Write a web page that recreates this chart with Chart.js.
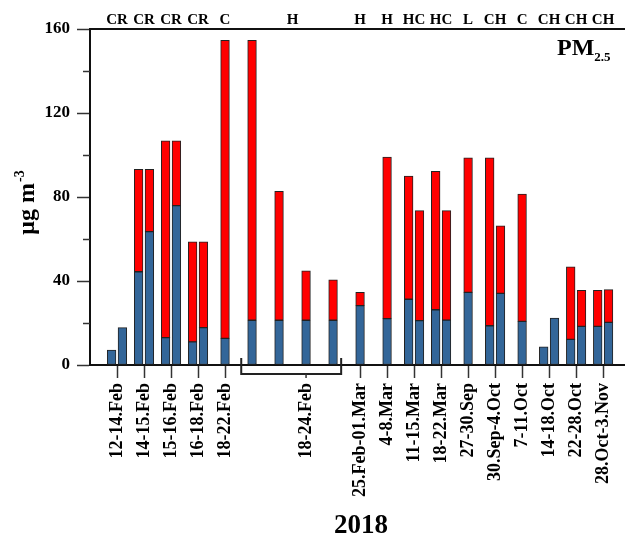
<!DOCTYPE html>
<html><head><meta charset="utf-8">
<script src="https://cdn.jsdelivr.net/npm/chart.js@4.4.0/dist/chart.umd.min.js"></script>
<style>html,body{margin:0;padding:0;background:#fff;overflow:hidden}</style>
</head><body>
<canvas id="c" width="625" height="537"></canvas>
<script>
// ---- data ----
const periodLabels = ['12-14.Feb','14-15.Feb','15-16.Feb','16-18.Feb','18-22.Feb','','','18-24.Feb','','25.Feb-01.Mar','4-8.Mar','11-15.Mar','18-22.Mar','27-30.Sep','30.Sep-4.Oct','7-11.Oct','14-18.Oct','22-28.Oct','28.Oct-3.Nov'];
const typeLabels = ['CR','CR','CR','CR','C','H','H','H','HC','HC','L','CH','C','CH','CH','CH'];
const typeGroups = [[0],[1],[2],[3],[4],[5,6,7,8],[9],[10],[11],[12],[13],[14],[15],[16],[17],[18]];
const barSlot = [0,0,1,1,2,2,3,3,4,5,6,7,8,9,10,11,11,12,12,13,14,14,15,16,16,17,17,18,18];
const blueValues = [7.1,17.8,44.4,63.5,13.0,75.9,11.0,17.8,12.7,21.3,21.3,21.3,21.3,28.3,22.1,31.3,21.1,26.3,21.4,34.6,18.7,34.1,20.8,8.6,22.4,12.2,18.4,18.4,20.3];
const redValues = [null,null,48.8,29.7,93.7,30.8,47.6,40.8,141.9,133.3,61.4,23.5,19.2,6.3,76.9,58.7,52.4,65.9,52.1,64.1,80.0,32.2,60.6,null,null,34.5,17.2,17.2,15.6];
const yTicks = [0,40,80,120,160];
const yMinorTicks = [20,60,100,140];

// ---- layout helpers ----
const xPos = barSlot.map((s, i) => {
  const n = barSlot.filter(v => v === s).length;
  if (n === 1) return s;
  const k = barSlot.slice(0, i).filter(v => v === s).length;
  return s + (k === 0 ? -0.2 : 0.2);
});
const labeledSlots = periodLabels.map((l, i) => l ? i : null).filter(v => v !== null);
const typeCenters = typeGroups.map(g => g.reduce((a, b) => a + b, 0) / g.length);
const XMIN = -1, XMAX = 18.81;
const SERIF = "'Liberation Serif', 'Times New Roman', serif";

const decor = {
  id: 'decor',
  afterDraw(chart) {
    const ctx = chart.ctx;
    const x = chart.scales.x, y = chart.scales.y;
    const L = chart.chartArea.left;
    ctx.save();
    // minor y ticks
    ctx.strokeStyle = '#333'; ctx.lineWidth = 1.5;
    yMinorTicks.forEach(v => {
      const py = Math.round(y.getPixelForValue(v)) + 0.5;
      ctx.beginPath(); ctx.moveTo(L - 7, py); ctx.lineTo(L, py); ctx.stroke();
    });
    // bracket under the 18-24 Feb group
    const bx1 = x.getPixelForValue(4.6), bx2 = x.getPixelForValue(8.3);
    const by = y.getPixelForValue(0);
    ctx.strokeStyle = '#222'; ctx.lineWidth = 2;
    ctx.beginPath();
    ctx.moveTo(bx1, by - 7); ctx.lineTo(bx1, by + 9); ctx.lineTo(bx2, by + 9); ctx.lineTo(bx2, by - 7);
    ctx.stroke();
    const tx = x.getPixelForValue(7);
    ctx.lineWidth = 1.5; ctx.strokeStyle = '#333';
    ctx.beginPath(); ctx.moveTo(tx, by + 9); ctx.lineTo(tx, by + 13); ctx.stroke();
    // y title
    ctx.fillStyle = '#000';
    ctx.translate(27, 203);
    ctx.rotate(-Math.PI / 2);
    ctx.font = 'bold 24px ' + SERIF;
    const main = 'μg m';
    const wMain = ctx.measureText(main).width;
    ctx.font = 'bold 14px ' + SERIF;
    const sup = '-3';
    const wSup = ctx.measureText(sup).width;
    const start = -(wMain + wSup) / 2;
    ctx.textBaseline = 'alphabetic';
    ctx.font = 'bold 24px ' + SERIF;
    ctx.fillText(main, start, 7);
    ctx.font = 'bold 14px ' + SERIF;
    ctx.fillText(sup, start + wMain + 1, -3);
    ctx.setTransform(1, 0, 0, 1, 0, 0);
    // PM2.5
    ctx.font = 'bold 24px ' + SERIF;
    ctx.textAlign = 'left';
    ctx.fillText('PM', 557, 55);
    const wPM = ctx.measureText('PM').width;
    ctx.font = 'bold 13px ' + SERIF;
    ctx.fillText('2.5', 557 + wPM, 61);
    // x title
    ctx.font = 'bold 27px ' + SERIF;
    ctx.textAlign = 'center';
    ctx.fillText('2018', 361, 533);
    ctx.restore();
  }
};

new Chart(document.getElementById('c'), {
  type: 'bar',
  data: {
    datasets: [
      {
        label: 'blue', stack: 'a',
        data: xPos.map((px, i) => ({ x: px, y: blueValues[i] })),
        backgroundColor: '#336699', borderColor: '#222', borderWidth: 1, borderSkipped: false,
        barThickness: 8.7, xAxisID: 'x', yAxisID: 'y'
      },
      {
        label: 'red', stack: 'a',
        data: xPos.map((px, i) => ({ x: px, y: redValues[i] })),
        backgroundColor: '#ff0000', borderColor: '#222', borderWidth: 1, borderSkipped: false,
        barThickness: 8.7, xAxisID: 'x', yAxisID: 'y'
      }
    ]
  },
  options: {
    responsive: false, animation: false, devicePixelRatio: 1,
    layout: { padding: 0 },
    plugins: { legend: { display: false }, tooltip: { enabled: false } },
    scales: {
      x: {
        type: 'linear', position: 'bottom', min: XMIN, max: XMAX, offset: false,
        afterBuildTicks: s => { s.ticks = labeledSlots.map(v => ({ value: v })); },
        afterFit: s => { s.height = 172; s.paddingLeft = 0; s.paddingRight = 0; },
        ticks: {
          autoSkip: false, minRotation: 90, maxRotation: 90, padding: 5,
          color: '#000', font: { family: SERIF, size: 18, weight: 'bold' },
          callback: v => periodLabels[v]
        },
        grid: {
          offset: false, drawOnChartArea: false, tickLength: 13, tickWidth: 1.5,
          tickColor: c => (c.tick && c.tick.value === 7) ? 'rgba(0,0,0,0)' : '#333'
        },
        border: { display: true, color: '#111', width: 2 }
      },
      xTop: {
        type: 'linear', position: 'top', min: XMIN, max: XMAX, offset: false,
        afterBuildTicks: s => { s.ticks = typeCenters.map(v => ({ value: v })); },
        afterFit: s => { s.height = 29; s.paddingLeft = 0; s.paddingRight = 0; },
        ticks: {
          autoSkip: false, maxRotation: 0, minRotation: 0, padding: 0,
          color: '#000', font: { family: SERIF, size: 15, weight: 'bold' },
          callback: (v, i) => typeLabels[i]
        },
        grid: { offset: false, drawOnChartArea: false, drawTicks: false },
        border: { display: true, color: '#111', width: 2 }
      },
      y: {
        type: 'linear', position: 'left', min: 0, max: 160, stacked: true,
        afterBuildTicks: s => { s.ticks = yTicks.map(v => ({ value: v })); },
        afterFit: s => { s.width = 90; },
        ticks: {
          padding: 7, color: '#000', font: { family: SERIF, size: 17, weight: 'bold' }
        },
        grid: { drawOnChartArea: false, tickLength: 13, tickWidth: 1.5, tickColor: '#333' },
        border: { display: true, color: '#111', width: 2 }
      }
    }
  },
  plugins: [decor]
});
</script>
</body></html>
